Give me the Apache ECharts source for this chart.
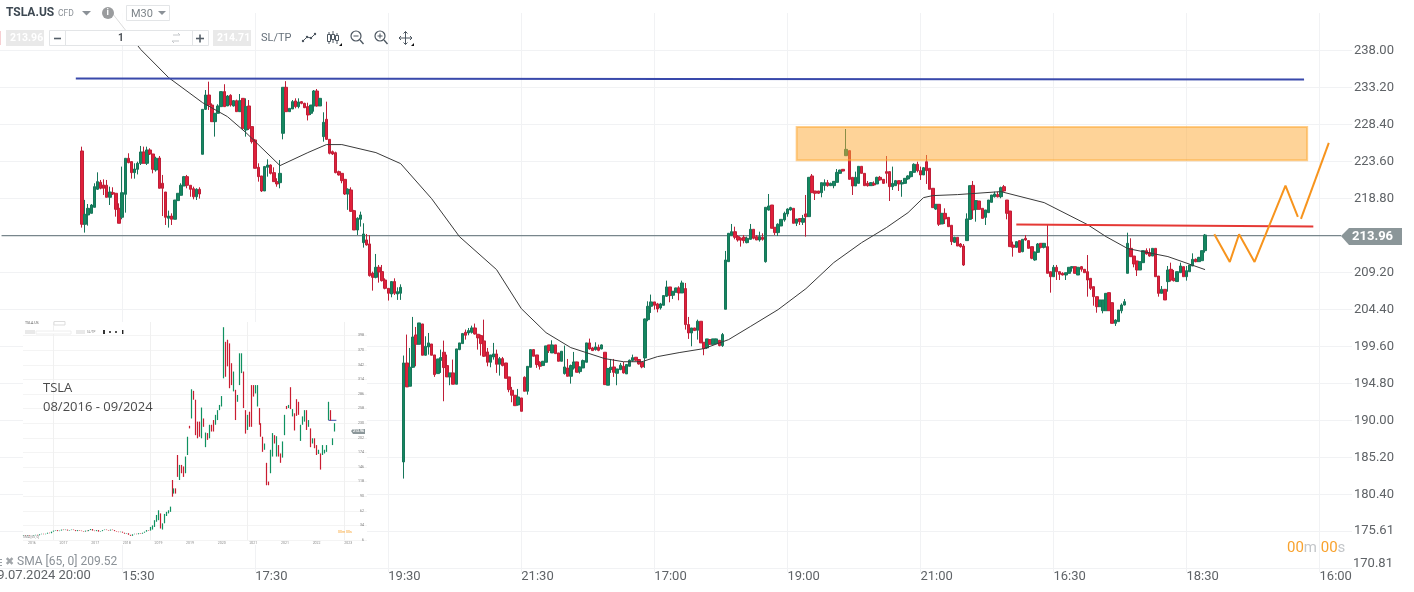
<!DOCTYPE html>
<html><head><meta charset="utf-8">
<style>html,body{margin:0;padding:0;background:#fff;overflow:hidden}#c{width:1414px;height:592px}</style>
<script src="https://cdn.jsdelivr.net/npm/echarts@6/dist/echarts.min.js"></script>
</head><body><div id="c"></div>
<script>
// ---------- main chart data ----------
const categoryCount = 437;
const firstCandleIndex = 26;
const xTickIndex = [39,82,125,168,211,254,297,340,383,426];
const xTickLabels = ['15:30','17:30','19:30','21:30','17:00','19:00','21:00','16:30','18:30','16:00'];
const yTicks = [170.81,175.61,180.40,185.20,190.00,194.80,199.60,204.40,209.20,218.80,223.60,228.40,233.20,238.00];
const lastPrice = 213.96;
const askPrice = 214.71;
// [open, close, low, high]
const candles = [
[224.94,215.43,215.0,225.5],[215.43,216.72,214.35,218.6],[216.64,217.5,215.25,218.06],[216.85,217.93,216.85,218.06],
[217.63,220.31,217.63,220.75],[219.97,220.96,219.88,222.17],[220.88,220.1,219.97,221.18],[220.53,220.1,219.23,221.26],
[220.49,218.93,218.93,221.18],[218.93,219.62,217.93,220.31],[219.53,219.36,219.23,220.23],[219.45,217.37,216.42,219.45],
[217.5,215.56,215.56,218.15],[216.34,219.53,216.08,222.91],[219.32,223.99,216.94,223.99],[223.99,223.43,223.34,224.64],
[223.56,222.13,221.35,223.56],[222.13,222.6,221.35,223.34],[222.56,223.34,221.9,223.55],[223.34,224.81,223.12,225.59],
[224.81,223.34,223.34,225.5],[223.34,225.07,223.12,225.5],[225.07,224.55,224.42,225.29],[224.55,222.56,222.04,224.55],
[222.47,223.99,222.26,224.2],[224.03,220.1,220.1,224.29],[220.75,220.1,216.5,221.83],[219.62,216.34,215.34,219.62],
[216.21,216.5,215.0,217.2],[216.5,216.08,215.34,216.85],[216.08,218.58,216.08,218.58],[218.5,219.45,218.5,219.45],
[219.19,220.49,219.19,220.75],[220.4,221.61,220.4,221.7],[221.61,220.49,220.1,221.83],[220.49,219.97,219.0,220.49],
[220.05,219.0,218.67,220.31],[219.0,219.97,218.58,220.1],[219.97,219.36,218.76,220.23],
[224.51,230.34,224.51,230.34],[230.34,232.2,230.26,232.85],[232.2,230.9,230.26,233.93],[230.9,228.74,228.74,231.12],
[228.74,229.83,226.8,229.83],[229.83,230.78,229.8,231.0],[230.69,232.64,230.69,232.64],[232.64,230.69,230.69,233.6],
[230.78,232.07,230.78,232.2],[232.16,230.9,230.7,232.3],[230.78,231.47,230.7,231.55],[231.47,230.04,230.04,231.6],
[230.04,231.47,230.04,232.33],[231.77,227.88,227.66,231.77],[227.66,230.69,226.8,231.77],[230.78,227.88,227.66,231.55],
[228.1,226.15,225.9,228.1],[226.37,222.69,222.69,226.5],[222.82,221.61,220.96,223.34],[221.7,219.75,219.62,221.7],
[219.75,222.91,219.75,223.0],[222.82,223.12,221.61,223.86],[223.12,222.04,221.9,223.2],[222.13,220.96,220.96,222.82],
[220.96,220.66,220.3,221.4],[220.83,222.04,220.1,223.77],
[227.23,233.2,226.45,233.2],[233.2,230.04,230.04,234.0],[230.04,230.47,230.04,230.47],[230.39,231.34,230.39,231.55],
[231.43,230.69,230.47,231.77],[230.69,231.3,230.47,231.77],[231.34,231.12,231.0,231.4],[231.12,230.56,230.5,231.2],
[230.69,229.61,228.9,231.2],[229.83,230.9,229.6,230.9],[230.78,232.72,230.04,232.85],[232.72,230.78,230.69,232.98],
[230.78,231.77,230.78,231.77],[226.8,228.66,226.15,229.96],[229.05,226.45,226.37,231.34],[226.45,224.64,224.5,226.45],
[224.85,224.55,224.42,225.0],[224.72,222.13,222.04,224.85],[222.26,221.83,221.75,222.39],[222.04,221.09,220.75,222.04],
[221.26,219.36,219.23,221.26],[219.36,219.97,217.3,220.1],[219.88,217.11,217.03,220.23],[217.2,214.69,214.69,217.3],
[214.69,216.21,214.04,216.34],[216.08,216.64,215.13,217.07],[213.05,214.17,212.4,215.56],[213.4,212.75,212.66,214.17],
[212.88,208.77,208.64,214.04],[209.07,208.55,206.82,209.29],[208.55,209.85,208.42,211.58],[209.85,209.24,207.86,210.15],
[209.29,208.12,208.0,210.15],[208.2,207.12,206.99,208.42],[207.12,206.48,205.53,207.12],[206.39,208.0,205.96,208.0],
[208.0,206.48,206.26,208.42],[206.39,206.69,205.62,207.25],[206.48,207.25,205.62,207.64],
[184.6,197.44,182.44,198.4],[197.44,194.33,194.33,201.12],[194.42,196.88,194.42,199.39],[196.88,200.8,196.79,203.41],
[201.07,199.86,197.01,202.11],[199.86,202.63,199.86,202.63],[202.5,198.44,198.44,202.5],[198.44,199.6,198.4,200.9],
[199.52,200.04,198.52,201.33],[199.9,198.44,198.44,199.9],[198.48,195.93,195.63,198.48],[196.06,197.96,196.06,197.96],
[197.79,198.13,196.15,199.17],[198.83,196.84,192.47,200.34],[197.1,195.63,195.63,198.52],[195.63,196.15,194.55,196.15],
[196.15,194.68,194.68,197.88],[194.68,199.26,194.68,199.26],[199.17,200.04,199.1,200.04],[199.95,201.25,199.95,201.33],
[201.42,201.03,200.47,201.77],[201.33,201.64,201.03,201.98],[201.42,201.98,201.25,202.28],[201.98,201.2,201.12,202.55],
[201.16,200.69,199.17,201.16],[200.99,199.95,198.4,201.12],[200.3,198.31,198.22,203.06],[198.87,197.53,197.01,199.39],
[197.53,198.48,196.88,198.48],[198.22,198.61,197.87,200.04],[198.61,197.27,196.15,199.17],[197.27,198.0,195.8,198.22],
[198.0,197.1,197.0,198.22],[197.44,195.45,195.45,197.44],[195.63,193.98,193.64,195.63],[193.9,193.25,192.34,194.33],
[193.25,191.9,191.9,193.25],[191.99,193.03,191.9,194.07],[192.9,191.17,191.17,192.9],[195.58,193.77,193.77,195.7],
[193.77,197.0,193.33,197.0],[196.88,199.17,196.88,199.17],[199.17,198.31,198.31,199.2],[198.48,197.23,196.8,198.48],
[197.53,197.01,196.58,197.66],[197.1,197.66,197.1,197.7],[197.53,199.65,197.53,199.65],[199.78,199.04,198.74,199.78],
[198.74,199.78,198.74,200.38],[199.78,198.65,198.65,199.78],[198.74,197.66,197.66,198.74],[197.66,198.96,197.66,198.96],
[196.06,196.92,195.93,199.69],[196.79,195.71,195.71,197.96],[195.71,197.1,194.76,197.23],[196.79,197.57,196.58,198.87],
[197.57,196.23,196.23,197.6],[196.32,196.92,196.06,197.0],[196.79,197.75,196.79,197.88],[197.53,200.04,197.53,200.04],
[200.04,199.26,199.17,200.6],[199.39,199.04,199.0,199.5],[199.17,199.52,199.04,200.12],[199.47,199.08,198.96,199.82],
[199.26,199.78,199.2,199.85],[198.83,194.63,194.63,198.83],[194.55,196.71,194.55,196.8],[196.58,196.88,196.15,197.96],
[196.92,196.23,195.63,197.96],[196.1,196.66,194.55,196.66],[196.58,197.14,196.5,197.44],[197.01,196.15,196.06,197.57],
[196.02,197.23,196.02,197.3],[197.01,197.79,197.01,197.88],[197.75,198.13,197.6,198.52],[198.18,197.79,197.7,198.2],
[197.88,197.31,197.23,197.95],[197.53,196.92,196.75,197.53],[198.09,203.15,196.8,203.2],[203.06,204.79,202.85,205.44],
[204.79,205.36,203.93,206.31],[205.36,204.92,204.36,205.36],[205.1,204.45,204.0,205.23],[204.58,205.1,204.36,205.23],
[204.92,206.18,204.92,206.18],[206.09,207.3,206.0,208.12],[207.3,206.18,205.31,207.3],[206.22,206.74,205.74,206.74],
[206.61,207.17,206.61,207.2],[207.17,206.52,205.57,207.39],[206.52,207.82,206.52,208.12],[207.09,202.42,201.77,207.82],
[202.42,201.33,200.56,203.41],[201.33,201.98,199.6,201.98],[201.98,201.64,201.6,202.0],[201.68,202.85,200.47,203.06],
[202.85,200.04,200.04,202.85],[200.12,199.3,198.44,200.12],[199.39,200.56,199.26,200.56],[200.47,199.86,199.8,200.5],
[199.86,200.56,199.86,200.56],[199.95,200.56,199.9,200.6],[200.38,199.69,199.6,200.4],[199.69,201.12,199.52,201.33],
[204.4,210.8,204.4,211.97],[210.58,214.26,210.58,214.3],[213.96,214.47,213.96,215.47],[214.47,213.74,213.48,215.12],
[213.83,213.39,213.18,214.04],[213.61,213.39,212.53,213.74],[213.74,213.31,212.96,214.04],[213.05,213.61,212.96,213.83],
[213.48,214.78,213.48,215.47],[214.78,213.61,213.48,214.78],[213.83,213.39,213.39,214.04],[213.39,213.83,213.18,214.47],
[213.74,213.48,213.31,214.26],[210.58,217.63,210.45,217.63],[217.29,217.8,217.2,219.36],[217.93,214.91,214.91,217.93],
[215.04,214.35,214.04,215.04],[214.35,215.43,213.91,215.56],[215.21,216.07,215.21,216.07],[216.0,216.85,215.77,217.07],
[216.77,217.41,216.42,217.5],[217.29,217.59,217.2,217.7],[217.5,215.56,215.56,217.5],[215.56,216.12,215.2,216.12],
[216.17,215.77,215.34,216.17],[215.69,216.2,215.34,216.64],[216.77,216.42,213.83,219.23],[216.42,221.52,216.42,221.52],
[221.7,219.53,219.53,221.95],[219.75,219.45,218.58,219.75],[219.75,219.45,219.36,219.75],[219.53,220.83,218.93,220.83],
[220.44,220.83,219.79,221.26],[220.83,220.44,220.31,221.18],[220.44,220.74,220.4,220.83],[220.44,221.0,220.1,221.0],
[220.87,222.17,220.87,222.6],[222.04,222.47,222.0,222.5],[222.56,222.34,222.3,222.6],[224.33,225.15,224.33,227.79],
[224.98,221.26,221.26,224.98],[221.52,220.4,219.23,221.52],[220.4,221.52,220.4,222.26],[220.74,222.95,220.74,222.95],
[222.95,222.04,222.04,222.95],[222.04,220.44,220.44,222.04],[220.74,220.44,220.31,221.05],[220.44,220.83,220.4,220.9],
[220.74,220.53,220.4,221.0],[220.66,221.52,220.66,221.6],[221.52,221.18,221.1,221.7],[221.26,220.74,220.66,221.3],
[222.26,222.04,220.74,224.29],[222.26,220.31,218.45,222.3],[220.31,220.74,219.88,222.91],[220.44,221.09,220.44,221.18],
[221.09,220.66,219.75,221.09],[220.66,220.83,219.0,221.18],[220.74,221.39,220.66,221.4],[221.31,221.7,221.2,221.8],
[221.61,222.26,221.5,222.3],[222.17,223.21,222.17,223.34],[223.21,222.39,222.17,223.55],[222.39,221.83,221.18,222.91],
[221.83,222.77,221.83,222.85],[223.55,222.39,220.66,224.42],[222.69,219.97,219.97,222.69],[220.1,217.59,217.59,220.1],
[217.41,218.02,217.3,218.02],[218.02,215.43,215.21,218.02],[215.47,216.85,215.47,216.9],[216.85,216.12,215.47,217.5],
[216.33,215.12,215.12,216.33],[215.3,213.18,212.74,215.3],[213.09,213.74,213.0,213.8],[213.74,212.61,212.61,213.74],
[212.87,212.53,212.4,213.0],[212.61,210.15,210.02,212.87],[213.31,216.12,213.31,216.85],[216.07,220.44,216.07,220.44],
[220.48,217.29,216.12,221.05],[217.37,218.5,215.77,218.5],[218.45,217.37,217.37,218.45],[217.5,216.2,216.2,217.5],
[216.33,217.29,215.34,217.29],[216.94,218.58,216.94,218.58],[218.28,219.23,218.28,219.23],[219.01,219.36,218.9,219.66],
[219.27,219.01,218.9,219.66],[219.01,220.18,218.8,220.31],[220.31,219.75,219.66,220.53],[218.58,216.85,216.07,218.58],
[217.15,212.53,212.53,217.15],[212.74,212.44,211.23,213.18],[212.44,213.18,212.4,213.2],[213.31,211.79,211.79,213.31],
[211.88,213.48,211.8,213.5],[213.61,213.39,213.3,214.04],[213.31,212.31,212.31,213.31],[212.53,211.02,210.9,212.53],
[210.8,211.83,210.7,211.9],
[211.79,212.87,211.7,213.0],[212.96,212.44,212.3,213.0],[212.44,212.96,212.3,213.0],[212.53,209.07,209.07,215.34],
[209.28,208.63,206.56,209.28],[208.63,209.85,208.63,210.15],[209.85,209.28,208.2,210.15],[209.28,208.94,208.2,209.28],
[209.07,208.85,208.8,209.2],[208.85,209.15,208.2,209.15],[209.07,209.85,209.07,209.85],[209.76,209.93,209.28,210.0],
[209.93,209.07,209.07,209.93],[208.85,209.85,208.85,209.85],[209.93,209.59,209.28,210.02],[209.59,209.15,209.15,209.59],
[209.28,208.2,206.04,211.44],[208.42,207.12,206.9,208.42],[207.34,206.04,204.87,207.34],[206.04,204.74,203.96,206.04],
[204.74,205.61,204.74,205.61],[204.22,205.61,203.88,205.61],[204.22,206.47,204.22,206.47],[206.56,204.22,204.22,206.56],
[205.26,202.58,202.58,205.26],[202.58,203.01,202.24,203.1],[202.8,204.31,202.8,204.31],[204.22,204.96,203.88,205.17],
[204.96,205.39,204.9,205.74],
[209.07,212.96,209.07,214.34],[212.31,211.23,211.23,213.61],[211.31,210.28,209.85,211.31],[210.67,209.5,208.72,210.67],
[209.5,210.58,209.5,210.58],[210.45,212.01,210.45,212.01],[212.01,211.58,211.5,212.31],[211.75,211.31,211.23,212.31],
[211.31,212.31,211.31,212.31],[212.31,208.63,208.63,212.31],[208.72,206.47,206.04,208.72],[206.47,206.99,206.47,207.42],
[206.99,205.61,205.61,206.99],[207.99,209.5,206.69,210.02],[209.59,208.2,208.0,210.45],[208.42,208.12,208.0,209.5],
[208.0,209.28,208.0,209.28],[209.15,210.02,209.15,210.45],[209.93,208.63,208.63,209.93],[208.63,209.41,208.12,210.02],
[209.28,210.15,209.28,210.15],[210.02,210.88,210.02,211.66],[210.88,210.58,210.5,211.0],[210.58,211.14,210.58,211.2],
[210.71,212.01,210.71,212.01],[212.01,214.04,211.75,214.17]
];
const smaPoints = [[36,242.7],[45,238.1],[54,234.46],[65,231.2],[73,229.4],[79,227.32],[90,223.04],[99,224.73],[105,225.77],[110,225.77],
[121,224.73],[129,223.3],[139,218.76],[148,213.83],[160,209.55],[168,204.49],[176,201.37],[184,199.43],[195,198.0],[201,197.6],[207,197.6],
[212,198.26],[219,198.78],[227,199.3],[235,200.47],[242,202.16],[251,204.36],[260,207.08],[269,210.46],[278,213.05],[286,215.0],[293,216.94],
[298,218.89],[301,219.15],[309,219.28],[323,219.67],[337,218.24],[351,215.39],[357,213.83],[364,212.28],[377,211.24],[389,209.55]];
const blueLine = [[24,234.33],[421,234.2]];
const redLine = [[328,215.41],[424,215.15]];
const orangePathA = [[392,214.13],[397,210.55],[400,214.13],[405,210.55],[415,220.45],[419,216.39]];
const orangePathB = [[420,216.13],[429,225.99]];
const lastPriceLine = [[0,lastPrice],[433,lastPrice]];
const zoneCorners = [[257,228.04],[422,223.75]];

// ---------- inset chart data (08/2016 - 09/2024) ----------
const insetCategoryCount = 174;
const insetSplitIndex = [15,64,113,162];
const insetXLabels = ['2016','2017','2017','2018','2019','2019','2020','2021','2021','2022','2023'];
const insetYTicks = [6,34,62,90,118,146,174,202,230,258,286,314,342,370,398];
// [open, close]
const insetBars = [
[14,15],[15,14],[14,15],[15,14],[14,14],[14,15],[15,16],[16,15],[15,17],[17,18],[18,17],[17,18],[18,20],[20,19],[19,22],[22,24],
[24,25],[25,23],[23,24],[24,26],[26,25],[25,26],[26,24],[24,25],[25,26],[26,25],[25,23],[23,25],[25,24],[24,23],[23,22],[22,24],
[24,23],[23,25],[25,27],[27,24],[24,23],[23,25],[25,22],[22,23],[23,25],[25,26],[26,25],[25,24],[24,26],[26,25],[25,23],[23,22],
[22,21],[21,22],[22,20],[20,18],[18,19],[19,16],[16,14],[14,17],[17,18],[18,17],[17,19],[19,18],[18,20],[20,22],[22,25],[25,24],
[24,31],[26,34],[31,44],[41,54],[44,63],[57,28],[26,38],[38,56],[52,60],[57,63],[60,70],[121,89],[95,105],[105,95],[169,127],[121,150],
[150,134],[147,127],[134,166],[169,204],[225,220],[239,295],[292,275],[275,207],[233,201],[233,204],[201,260],[239,223],[184,212],[211,198],[201,227],[227,214],
[236,214],[227,246],[236,255],[255,265],[262,282],[316,414],[386,319],[390,339],[383,297],[345,303],[291,329],[294,236],[271,284],[303,364],[326,364],[329,259],
[255,210],[217,246],[252,223],[303,223],[303,281],[287,303],[262,303],[259,227],[230,204],[204,175],[179,191],[154,111],[118,111],[134,179],[166,211],[207,191],
[166,205],[188,166],[172,154],[164,195],[207,246],[263,257],[259,265],[299,257],[243,257],[249,216],[276,244],[271,246],[196,227],[227,243],[233,255],[255,217],
[223,236],[220,184],[191,201],[201,182],[188,169],[171,179],[172,141],[169,188],[172,179],[175,188],[236,271],[255,235],[188,201],[214,230]
];
const insetBlue = [[154,235.5],[158,235.5]];

// ---------- colours ----------
const GREEN='#15875f', GREEN_B='#17755a', RED='#e0203a', RED_B='#bf1e37';
const GRID='#f1f2f4', AXIS_TXT='#5f6367';

const categories = Array.from({length:categoryCount},(_,i)=>{const k=xTickIndex.indexOf(i);return k>=0?xTickLabels[k]:'c'+i;});
const isTick = i => xTickIndex.indexOf(i)>=0;
const insetCats = Array.from({length:insetCategoryCount},(_,i)=>{
  const k=(i-4)/16; return (i>=4 && Number.isInteger(k) && insetXLabels[k])?insetXLabels[k]:'i'+i;});

const T=(x,y,text,font,fill,extra)=>Object.assign({type:'text',z:20,silent:true,style:{x,y,text,font,fill,textVerticalAlign:'middle'}},extra||{});
const R=(x,y,w,h,fill,stroke,z)=>({type:'rect',z:z==null?19:z,silent:true,shape:{x,y,width:w,height:h},style:{fill:fill||'none',stroke:stroke||'none',lineWidth:1}});
const L=(pts,stroke,w,z)=>({type:'polyline',z:z==null?20:z,silent:true,shape:{points:pts},style:{stroke,lineWidth:w||1,fill:'none'}});
const Tri=(pts,fill,z)=>({type:'polygon',z:z==null?20:z,silent:true,shape:{points:pts},style:{fill}});
const C=(cx,cy,r,stroke,fill,z)=>({type:'circle',z:z==null?20:z,silent:true,shape:{cx,cy,r},style:{stroke:stroke||'none',fill:fill||'none',lineWidth:1.2}});
const ICON='#4c5660', F='Roboto, sans-serif';

const graphicEls=[
  // inset paper
  R(23,322,344,223,'#ffffff','none',1),
  // toolbar veil
  {type:'rect',z:18,silent:true,shape:{x:0,y:0,width:210,height:30},style:{fill:'rgba(255,255,255,0.82)'}},
  T(6,13,'TSLA.US','bold 12px '+F,'#3d4852'),
  T(58,14,'CFD','8.5px '+F,'#8b9197'),
  Tri([[82,11],[91,11],[86.5,15.5]],'#8b9197'),
  C(108,13,6,'none','#9a9c9e'),
  T(106.6,13,'i','bold 9px '+F,'#ffffff'),
  R(126.5,5.5,43,15,'#ffffff','#e3e5e7'),
  T(131,14,'M30','11px '+F,'#7d8489'),
  Tri([[158,11],[166,11],[162,15]],'#8b9197'),
  R(0,31,1,14,'#f6cfd2','none'),
  R(6,30,38,16,'#e9e9e9','none'),
  T(10,38,'213.96','bold 10.5px '+F,'#ffffff'),
  R(49.5,30.5,159,15,'#ffffff','#e3e5e7'),
  L([[65.5,31],[65.5,45]],'#e3e5e7',1),L([[192.5,31],[192.5,45]],'#e3e5e7',1),
  L([[54,38.5],[61,38.5]],'#555f68',1.6),
  T(118,38,'1','bold 10px '+F,'#4a4f55'),
  L([[173,35],[180,35],[178,33]],'#c5c8cb',1),L([[179,41],[172,41],[174,43]],'#c5c8cb',1),
  L([[196,38.5],[204,38.5]],'#555f68',1.6),L([[200,34.5],[200,42.5]],'#555f68',1.6),
  R(213,30,38,16,'#e9e9e9','none'),
  T(217,38,String(askPrice),'bold 10.5px '+F,'#ffffff'),
  T(261,38,'SL/TP','11px '+F,'#66707a'),
  L([[303,41],[307,37],[311,38],[315,34]],ICON,1),C(303,41,0.6,ICON,ICON),C(307,37,0.6,ICON,ICON),C(311,38,0.6,ICON,ICON),C(315,34,0.6,ICON,ICON),
  L([[329,32],[329,44]],ICON,1),R(327.5,34.5,3,7,'#fff',ICON,20),L([[333,31],[333,43]],ICON,1),R(331.5,34.5,3,5,'#fff',ICON,20),L([[337,33],[337,44]],ICON,1),R(335.5,35.5,3,5,'#fff',ICON,20),
  Tri([[339,46],[342,46],[342,43]],'#111'),
  C(356,36,5,ICON),L([[353.5,36],[358.5,36]],ICON,1),L([[360,40],[363.5,44]],ICON,1.4),
  C(380,36,5,ICON),L([[377.5,36],[382.5,36]],ICON,1),L([[380,33.5],[380,38.5]],ICON,1),L([[384,40],[387.5,44]],ICON,1.4),
  L([[399,38],[412,38]],ICON,1),L([[405.5,31.5],[405.5,44.5]],ICON,1),
  L([[401,36],[399,38],[401,40]],ICON,1),L([[410,36],[412,38],[410,40]],ICON,1),L([[403.5,33.5],[405.5,31.5],[407.5,33.5]],ICON,1),L([[403.5,42.5],[405.5,44.5],[407.5,42.5]],ICON,1),
  Tri([[411,46],[414,46],[414,43]],'#111'),
  // last price tag
  Tri([[1341,236],[1349,228],[1402,228],[1402,245],[1349,245]],'#8b9699',15),
  T(1352,236.5,lastPrice.toFixed(2),'bold 13px '+F,'#ffffff',{z:16}),
  // bottom strip
  T(1353,564,yTicks[0].toFixed(2),'13px '+F,AXIS_TXT),
  T(-10,576,'19.07.2024 20:00','13px '+F,AXIS_TXT),
  L([[0,559.5],[2,559.5]],'#9aa0a5',1),L([[0,562.5],[2,562.5]],'#9aa0a5',1),L([[0,565.5],[2,565.5]],'#9aa0a5',1),
  T(5,562,'✖','11px "DejaVu Sans"','#a2a6aa'),
  T(17,562,'SMA [65, 0] 209.52','12px '+F,'#8b9197'),
  {type:'text',z:20,silent:true,style:{x:1287,y:548,textVerticalAlign:'middle',font:'15px '+F,
    text:'{a|00}{b|m} {a|00}{b|s}',rich:{a:{fill:'#f8a22d',font:'15px '+F},b:{fill:'#c3c6c9',font:'15px '+F}}}},
  // inset title
  T(43,388,'TSLA','13px "Open Sans"','#4a4a4a',{z:9}),
  T(43,407,'08/2016 - 09/2024','13px "Open Sans"','#4a4a4a',{z:9}),
  // inset mini header
  T(25,323,'TSLA.US','3.5px '+F,'#555',{z:9}),
  R(54,321.5,11,3.5,'#ffffff','#dddddd',9),
  R(25,330,10,4,'#e9e9e9','none',9),R(36,331,35,3,'#ffffff','#eeeeee',9),R(76,330,9,4,'#e9e9e9','none',9),
  T(87,332,'SL/TP','3px '+F,'#777',{z:9}),
  R(103,330,2,4,'#333','none',9),R(109,331,2,2,'#555','none',9),R(115,331,2,2,'#555','none',9),R(122,330,1.4,4,'#222','none',9),
  T(23,537,'SMA [65, 0]','3.2px '+F,'#888',{z:9}),
  T(338,532,'00m 00s','3.6px '+F,'#f8a22d',{z:9}),
  Tri([[351,431],[353,429],[365,429],[365,434],[353,434]],'#8b9699',9),
  T(353,431.5,'213.96','bold 3.5px '+F,'#ffffff',{z:10})
];

const mainX = {type:'category',gridIndex:0,data:categories,boundaryGap:true,
  axisLine:{show:false},
  axisTick:{show:false,alignWithLabel:true,interval:(i)=>isTick(i)},
  splitLine:{show:true,alignWithLabel:true,interval:(i)=>isTick(i),lineStyle:{color:GRID,width:1}},
  axisLabel:{show:true,interval:(i)=>isTick(i),align:'left',margin:-2,color:AXIS_TXT,fontFamily:'Roboto',fontSize:13,verticalAlign:'top',hideOverlap:false}};
const mainY = {type:'value',gridIndex:0,position:'right',min:170.32,max:242.84,scale:true,
  axisLine:{show:false},
  axisTick:{show:false,customValues:yTicks},
  splitLine:{show:true,lineStyle:{color:GRID,width:1}},
  axisLabel:{show:true,customValues:yTicks.slice(1),margin:2,color:AXIS_TXT,fontFamily:'Roboto',fontSize:13,formatter:v=>Number(v).toFixed(2)}};
const insetX = {type:'category',gridIndex:1,data:insetCats,boundaryGap:true,z:3,
  axisLine:{show:false},
  axisTick:{show:false,alignWithLabel:true,interval:(i)=>insetSplitIndex.indexOf(i)>=0},
  splitLine:{show:true,alignWithLabel:true,interval:(i)=>insetSplitIndex.indexOf(i)>=0,lineStyle:{color:'#f0f0f0'}},
  axisLabel:{show:true,interval:(i)=>(i>=4&&(i-4)%16===0),margin:1,color:'#888',fontSize:3.5,fontFamily:'Roboto',hideOverlap:false}};
const insetY = {type:'value',gridIndex:1,position:'right',min:6,max:424,z:3,
  axisLine:{show:false},
  axisTick:{show:false,customValues:insetYTicks},
  splitLine:{show:true,lineStyle:{color:'#f4f4f4'}},
  axisLabel:{show:true,inside:true,customValues:insetYTicks,margin:3,color:'#777',fontSize:3.5,fontFamily:'Roboto'}};

const lineS=(name,data,color,width,z)=>({name,type:'line',xAxisIndex:0,yAxisIndex:0,data,showSymbol:false,symbol:'none',silent:true,z,
  lineStyle:{color,width},itemStyle:{color},animation:false,connectNulls:true});
const EMPTY=['-','-','-','-'];
const padded=Array.from({length:firstCandleIndex},()=>EMPTY).concat(candles);

const option={
  animation:false,
  backgroundColor:'#ffffff',
  grid:[{left:0,top:13,width:1352,height:559,containLabel:false},{left:23,top:322,width:344,height:218,containLabel:false}],
  xAxis:[mainX,insetX],
  yAxis:[mainY,insetY],
  graphic:{elements:graphicEls},
  series:[
    lineS('price',lastPriceLine,'#78868c',1.3,3),
    {name:'candles',type:'candlestick',xAxisIndex:0,yAxisIndex:0,barWidth:3,z:4,silent:true,
      itemStyle:{color:GREEN,color0:RED,borderColor:GREEN_B,borderColor0:RED_B,borderWidth:1},
      data:padded},
    lineS('SMA',smaPoints,'#3a3a3a',1,5),
    lineS('resistance',blueLine,'#3949ab',2,6),
    lineS('neckline',redLine,'#e53935',2,6),
    lineS('pathA',orangePathA,'#f7941d',2,6),
    lineS('pathB',orangePathB,'#f7941d',2,6),
    {name:'zone',type:'line',xAxisIndex:0,yAxisIndex:0,data:[],z:7,silent:true,
      markArea:{silent:true,z:7,itemStyle:{color:'rgba(253,167,50,0.5)',borderColor:'rgba(253,167,50,0.55)',borderWidth:2},
        data:[[{coord:zoneCorners[0]},{coord:zoneCorners[1]}]]}},
    {name:'insetCandles',type:'candlestick',xAxisIndex:1,yAxisIndex:1,barWidth:1,z:8,silent:true,
      itemStyle:{color:'#0f9160',color0:'#c91c30',borderColor:'#0f9160',borderColor0:'#c91c30',borderWidth:1.2},
      data:insetBars.map(b=>[b[0],b[1],Math.min(b[0],b[1]),Math.max(b[0],b[1])])},
    {name:'insetBlue',type:'line',xAxisIndex:1,yAxisIndex:1,data:insetBlue,symbol:'none',z:8,silent:true,lineStyle:{color:'#3949ab',width:1}}
  ]
};
const chart=echarts.init(document.getElementById('c'),null,{renderer:'canvas',width:1414,height:592});
chart.setOption(option);
</script></body></html>
